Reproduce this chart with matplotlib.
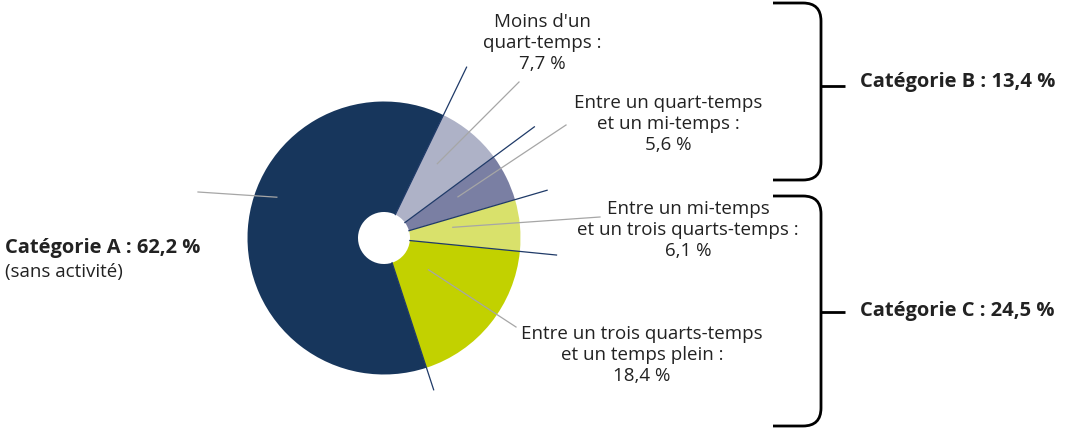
import numpy as np
import matplotlib
matplotlib.use("Agg")
import matplotlib.pyplot as plt
from matplotlib.path import Path
from matplotlib.patches import PathPatch

# ---- data ----
slice_labels = ["Moins d'un\nquart-temps :\n7,7 %",
                "Entre un quart-temps\net un mi-temps :\n5,6 %",
                "Entre un mi-temps\net un trois quarts-temps :\n6,1 %",
                "Entre un trois quarts-temps\net un temps plein :\n18,4 %",
                "Catégorie A : 62,2 %"]
slice_values = [7.7, 5.6, 6.1, 18.4, 62.2]
slice_colors = ["#AEB2C7", "#7A7FA3", "#D9E16B", "#C2D100", "#17365C"]
group_labels = ["Catégorie B : 13,4 %", "Catégorie C : 24,5 %"]
catA_sub = "(sans activité)"

W, H = 1066, 431
fig = plt.figure(figsize=(W / 100, H / 100), dpi=100)
ax = fig.add_axes([0, 0, 1, 1])

def P(x, y):
    return (x, H - y)

cx, cy = P(384, 239)
R = 136.5
hole = 26
FONT = "Open Sans"
TXT = "#222222"
FS = 13.5
FSB = 14.5

wedges, _ = ax.pie(slice_values, colors=slice_colors, startangle=64.2,
                   counterclock=False, center=(cx, cy), radius=R,
                   wedgeprops=dict(width=R - hole, linewidth=0),
                   frame=True)
ax.set_xlim(0, W)
ax.set_ylim(0, H)
ax.set_aspect("equal")
ax.axis("off")

# separator lines (dark) at the starting boundary of each wedge
sep_len = [1.39, 1.37, 1.245, 1.27, 1.17]
for w, L in zip(wedges, sep_len):
    th = np.deg2rad(w.theta2)
    ax.plot([cx + hole * np.cos(th), cx + R * L * np.cos(th)],
            [cy + hole * np.sin(th), cy + R * L * np.sin(th)],
            color="#1F3A68", lw=0.9, zorder=3)

# leader lines (grey) from labels to wedges
lead_in = [(0.67, 4), (0.62, 2.7), (0.51, 3.5), (0.40, 3.2), (0.84, -17)]
lead_out = [P(519, 83), P(566, 126), P(600, 218), P(516, 328), P(198, 193)]
for w, (rf, dth), (ox, oy) in zip(wedges, lead_in, lead_out):
    mid = np.deg2rad((w.theta1 + w.theta2) / 2 + dth)
    ix, iy = cx + R * rf * np.cos(mid), cy + R * rf * np.sin(mid)
    ax.plot([ox, ix], [oy, iy], color="#A6A6A6", lw=0.9, zorder=4)

# slice labels
pos = [P(542, 43), P(668, 124), P(688, 230), P(642, 355)]
for lab, (x, y) in zip(slice_labels[:4], pos):
    ax.text(x, y, lab, ha="center", va="center", fontsize=FS,
            family=FONT, color=TXT, linespacing=1.2)

ax.text(*P(5, 248), slice_labels[4], ha="left", va="center", fontsize=FSB,
        family=FONT, color=TXT, fontweight="bold")
ax.text(*P(5, 272), catA_sub, ha="left", va="center", fontsize=FS,
        family=FONT, color=TXT)

# brackets
def bracket(y0, y1, ym):
    xl, xr, r = 773, 821, 18
    verts = [P(xl, y0), P(xr - r, y0), P(xr, y0), P(xr, y0 + r),
             P(xr, y1 - r), P(xr, y1), P(xr - r, y1), P(xl, y1)]
    codes = [Path.MOVETO, Path.LINETO, Path.CURVE3, Path.CURVE3,
             Path.LINETO, Path.CURVE3, Path.CURVE3, Path.LINETO]
    ax.add_patch(PathPatch(Path(verts, codes), fill=False, lw=2,
                           color="black", capstyle="butt"))
    ax.plot([xr, 845], [H - ym, H - ym], color="black", lw=2,
            solid_capstyle="butt")

bracket(4, 181, 87)
bracket(197, 427, 313)

ax.text(*P(860, 82), group_labels[0], ha="left", va="center", fontsize=FSB,
        family=FONT, color=TXT, fontweight="bold")
ax.text(*P(860, 311), group_labels[1], ha="left", va="center", fontsize=FSB,
        family=FONT, color=TXT, fontweight="bold")

fig.savefig("out.png", dpi=100)
